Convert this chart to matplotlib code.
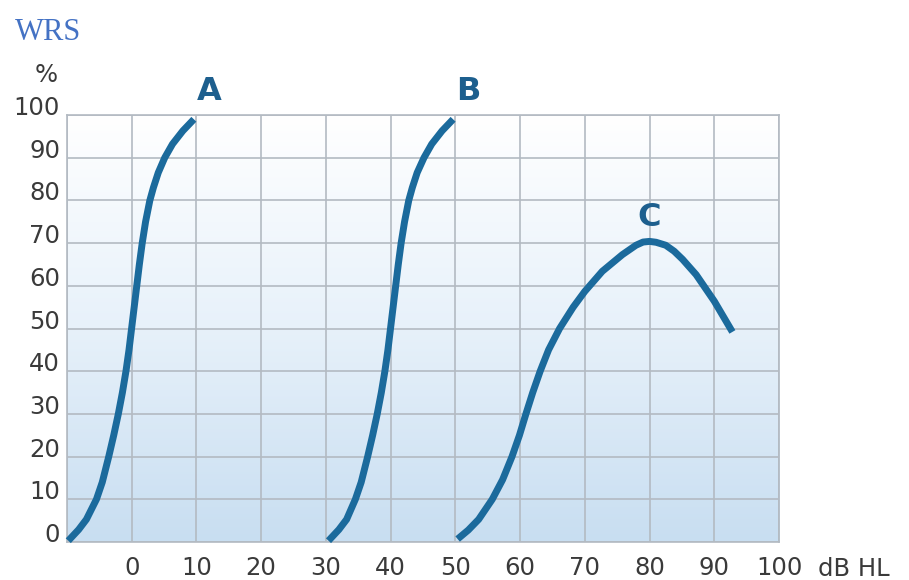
import numpy as np
import matplotlib.pyplot as plt
from matplotlib.colors import LinearSegmentedColormap

# speech level in dB HL and word recognition score in %
a_db = [-9.8, -8.2, -7.0, -5.45, -4.55, -3.55, -2.78, -2.07, -1.44, -0.89, -0.42, -0.02,
        0.38, 0.78, 1.18, 1.62, 2.14, 2.8, 3.35, 4.1, 5.1, 6.3, 7.9, 9.6]
a_pct = [0.3, 2.9, 5.3, 10, 14, 20, 25, 30, 35, 40, 45, 50,
         55, 60, 65, 70, 75, 80, 83, 86.5, 90, 93.2, 96.3, 99]

b_db = [30.4, 32.0, 33.2, 34.55, 35.45, 36.45, 37.22, 37.93, 38.56, 39.11, 39.58, 39.98,
        40.38, 40.78, 41.18, 41.62, 42.15, 42.8, 43.35, 44.1, 45.15, 46.35, 47.95, 49.65]
b_pct = [0.3, 2.9, 5.3, 10, 14, 20, 25, 30, 35, 40, 45, 50,
         55, 60, 65, 70, 75, 80, 83, 86.5, 90, 93.2, 96.3, 99]

c_db = [50.35, 52.0, 53.6, 55.7, 57.3, 58.75, 59.9, 60.9, 61.95, 63.1, 64.4, 66.1,
        68.2, 70.0, 72.7, 75.8, 77.9, 79.0, 80.0, 81.0, 82.5, 83.8, 85.1, 87.2, 90.0, 92.8]
c_pct = [0.7, 2.8, 5.3, 10, 14.6, 20, 25, 30, 35, 40, 45, 50,
         55, 58.7, 63.4, 67.3, 69.5, 70.25, 70.4, 70.2, 69.5, 68.1, 66.2, 62.6, 56.4, 49.2]

curve_names = ["A", "B", "C"]
name_x = [12, 52, 80]
name_y = [105.5, 105.5, 76]

x_ticks = list(range(-10, 101, 10))
x_labels = [""] + [str(v) for v in range(0, 101, 10)]
y_ticks = list(range(0, 101, 10))

line_col = "#1b6a9c"
grid_col = "#b3bac2"
text_col = "#3a3a3a"

fig = plt.figure(figsize=(9.09, 5.80), dpi=100)
ax = fig.add_axes([0.0737, 0.0655, 0.7833, 0.7362])

# background gradient (white at top, light blue at bottom)
bg = LinearSegmentedColormap.from_list("bg", [(0.0, "#c8def1"), (0.5, "#e7f1fa"), (1.0, "#ffffff")])
grad = np.linspace(0, 1, 256).reshape(-1, 1)
ax.imshow(grad, cmap=bg, aspect="auto", extent=[-10, 100, 0, 100],
          origin="lower", zorder=0)

ax.set_xlim(-10, 100)
ax.set_ylim(0, 100)
ax.set_xticks(x_ticks)
ax.set_xticklabels(x_labels)
ax.set_yticks(y_ticks)
ax.grid(True, color=grid_col, linewidth=1.2, zorder=1)
ax.set_axisbelow(False)
for s in ax.spines.values():
    s.set_color(grid_col)
    s.set_linewidth(1.2)
ax.tick_params(length=0, labelsize=17.5, labelcolor=text_col)
ax.tick_params(axis="x", pad=10)
ax.tick_params(axis="y", pad=5)
for t in ax.get_yticklabels():
    t.set_va("baseline")

for xs, ys in [(a_db, a_pct), (b_db, b_pct), (c_db, c_pct)]:
    ax.plot(xs, ys, color=line_col, linewidth=5, solid_capstyle="butt",
            solid_joinstyle="round", zorder=3, clip_on=False)

for name, nx, ny in zip(curve_names, name_x, name_y):
    ax.text(nx, ny, name, color="#1d5f8e", fontsize=23, fontweight="bold",
            ha="center", va="center", clip_on=False)

fig.text(58 / 909, 1 - 82 / 580, "%", fontsize=17.5, color=text_col,
         ha="right", va="baseline")
fig.text(818 / 909, 1 - 576 / 580, "dB HL", fontsize=17.5, color=text_col,
         ha="left", va="baseline")
fig.text(15 / 909, 1 - 40 / 580, "WRS", fontsize=22, color="#4472c4",
         family="Liberation Serif", ha="left", va="baseline")

fig.savefig("out.png", dpi=100)
